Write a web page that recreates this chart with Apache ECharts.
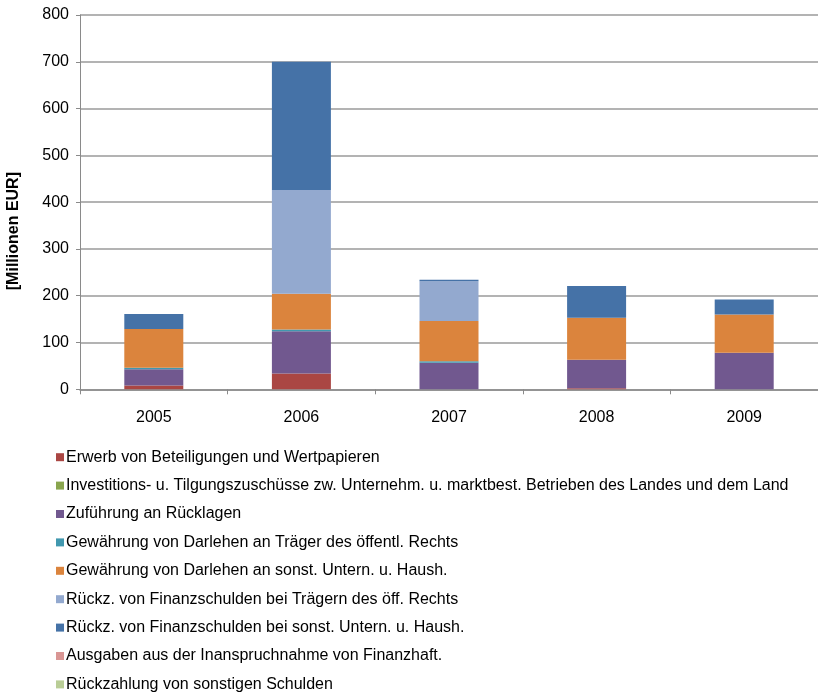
<!DOCTYPE html>
<html>
<head>
<meta charset="utf-8">
<script src="https://cdn.jsdelivr.net/npm/echarts@6/dist/echarts.min.js"></script>
<style>
html,body{margin:0;padding:0;background:#fff;}
#chart{width:818px;height:693px;}
</style>
</head>
<body>
<div id="chart"></div>
<script>
const categories = ['2005', '2006', '2007', '2008', '2009'];
const seriesNames = [
  'Erwerb von Beteiligungen und Wertpapieren',
  'Investitions- u. Tilgungszuschüsse zw. Unternehm. u. marktbest. Betrieben des Landes und dem Land',
  'Zuführung an Rücklagen',
  'Gewährung von Darlehen an Träger des öffentl. Rechts',
  'Gewährung von Darlehen an sonst. Untern. u. Haush.',
  'Rückz. von Finanzschulden bei Trägern des öff. Rechts',
  'Rückz. von Finanzschulden bei sonst. Untern. u. Haush.',
  'Ausgaben aus der Inanspruchnahme von Finanzhaft.',
  'Rückzahlung von sonstigen Schulden'
];
const erwerb        = [8, 34, 0, 2, 0];
const investitions  = [0, 0, 0, 0, 0];
const zufuehrung    = [35, 90, 57, 61, 78];
const darlehenOeff  = [3, 4, 3, 0, 0];
const darlehenSonst = [83, 76, 86, 90, 82];
const rueckzOeff    = [0, 222, 85, 0, 0];
const rueckzSonst   = [32, 274, 3, 68, 32];
const ausgaben      = [0, 0, 0, 0, 0];
const rueckzahlung  = [0, 0, 0, 0, 0];
const yTicks = [0, 100, 200, 300, 400, 500, 600, 700, 800];

const seriesData = [erwerb, investitions, zufuehrung, darlehenOeff, darlehenSonst, rueckzOeff, rueckzSonst, ausgaben, rueckzahlung];
const colors = ['#AA4643', '#89A54E', '#71588F', '#4198AF', '#DB843D', '#93A9CF', '#4572A7', '#D99694', '#B9CD96'];

const FONT = 'Liberation Sans, Arial, sans-serif';
const chart = echarts.init(document.getElementById('chart'), null, {renderer: 'canvas'});
chart.setOption({
  animation: false,
  color: colors,
  textStyle: {fontFamily: FONT},
  grid: {left: 80, top: 15, width: 742, height: 374.3, containLabel: false},
  xAxis: {
    type: 'category',
    data: categories,
    axisLine: {lineStyle: {color: '#8a8a8a', width: 1.5}},
    axisTick: {show: true, length: 5, lineStyle: {color: '#8a8a8a'}},
    axisLabel: {color: '#000', fontSize: 16, margin: 20, fontFamily: FONT}
  },
  yAxis: {
    type: 'value',
    min: yTicks[0],
    max: yTicks[yTicks.length - 1],
    interval: 100,
    axisLine: {show: true, lineStyle: {color: '#8a8a8a', width: 1}},
    axisTick: {show: true, length: 4, lineStyle: {color: '#8a8a8a'}},
    axisLabel: {color: '#000', fontSize: 16, margin: 11, fontFamily: FONT},
    splitLine: {lineStyle: {color: '#9a9a9a', width: 1.5}}
  },
  legend: {
    orient: 'vertical',
    left: 56,
    top: 448,
    height: 400,
    padding: 0,
    itemWidth: 8,
    itemHeight: 8,
    itemGap: 10,
    icon: 'rect',
    selectedMode: false,
    textStyle: {color: '#000', fontSize: 16, lineHeight: 18.4, fontFamily: FONT, padding: [0, 0, 0, -3]},
    data: seriesNames
  },
  graphic: [{
    type: 'text',
    left: 6,
    top: 172,
    rotation: Math.PI / 2,
    style: {text: '[Millionen EUR]', font: 'bold 16px Liberation Sans, Arial, sans-serif', fill: '#000'}
  }],
  series: seriesNames.map((name, i) => ({
    name: name,
    type: 'bar',
    stack: 'total',
    barWidth: 59,
    data: seriesData[i],
    itemStyle: {color: colors[i]}
  }))
});
</script>
</body>
</html>
